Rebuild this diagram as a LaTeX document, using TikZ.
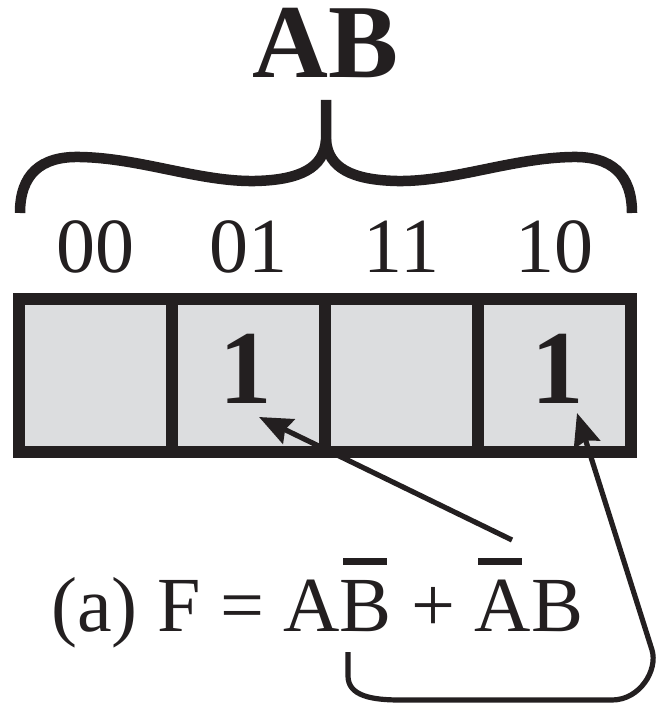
\documentclass[tikz,border=0pt]{standalone}
\usepackage{fontspec}
\setmainfont{Liberation Serif}
\usepackage{tikz}
\usetikzlibrary{calc,positioning,arrows.meta}
\definecolor{ink}{RGB}{35,31,32}
\definecolor{cellgray}{RGB}{220,221,223}
\tikzset{
  kcell/.style={draw=ink, fill=cellgray, line width=12pt, minimum size=153pt,
                inner sep=0pt},
  kone/.style={ink, inner sep=0pt, anchor=base,
               font=\fontsize{105}{126}\selectfont\bfseries},
  klabel/.style={ink, inner sep=0pt, anchor=base,
                 font=\fontsize{78}{94}\selectfont},
  kbrace/.style={ink, line width=10.5pt},
  karrow/.style={ink, line width=5.2pt,
                 -{Stealth[length=33pt,width=27pt,inset=4pt]}},
}
% ustu cizgili harf
\newcommand{\nbar}[1]{\rlap{\kern0.045em\raise0.85em\hbox{\vrule width0.56em height0.09em depth0pt}}#1}

\begin{document}
\begin{tikzpicture}[x=1pt,y=1pt]
  \useasboundingbox (0,0) rectangle (656,-706);
  % baslik ve kume parantezi
  \node[kone] (title) at (325.5,-78) {AB};
  \draw[kbrace] (20,-213) .. controls (20,-175) and (40,-156) .. (80,-157)
    .. controls (140,-158) and (200,-182) .. (255,-181)
    .. controls (300,-180) and (324,-168) .. (326,-140) -- (326,-100);
  \draw[kbrace] (326,-140) .. controls (328,-168) and (352,-180) .. (397,-181)
    .. controls (452,-182) and (512,-158) .. (572,-157)
    .. controls (612,-156) and (632,-175) .. (632,-213);
  % hucreler: AB = 00 01 11 10
  \foreach \k/\lab in {0/00,1/01,2/11,3/10}{
    \node[kcell] (c\lab) at (95.5+153*\k,-375.5) {};
    \node[klabel] (l\lab) at (95.5+153*\k,-272) {\lab};
  }
  \node[kone] (one01) at (245.5,-403) {1};
  \node[kone] (one10) at (557.5,-403) {1};
  % ifade
  \node[klabel, anchor=base west] (expr) at (51,-631)
    {(a) F = A\nbar{B} + \nbar{A}B};
  \coordinate (fromAB) at (512,-540);
  \coordinate (fromBA) at (348,-652);
  % oklar
  \draw[karrow] (fromAB) -- ($(one01.base)+(13.5,-14)$);
  \draw[karrow] (fromBA) -- (348,-676)
    .. controls (348,-696) and (372,-700) .. (400,-700) -- (612,-700)
    .. controls (640,-700) and (658,-670) .. (652,-650)
    -- ($(one10.base)+(19.5,-10)$);
\end{tikzpicture}
\end{document}
